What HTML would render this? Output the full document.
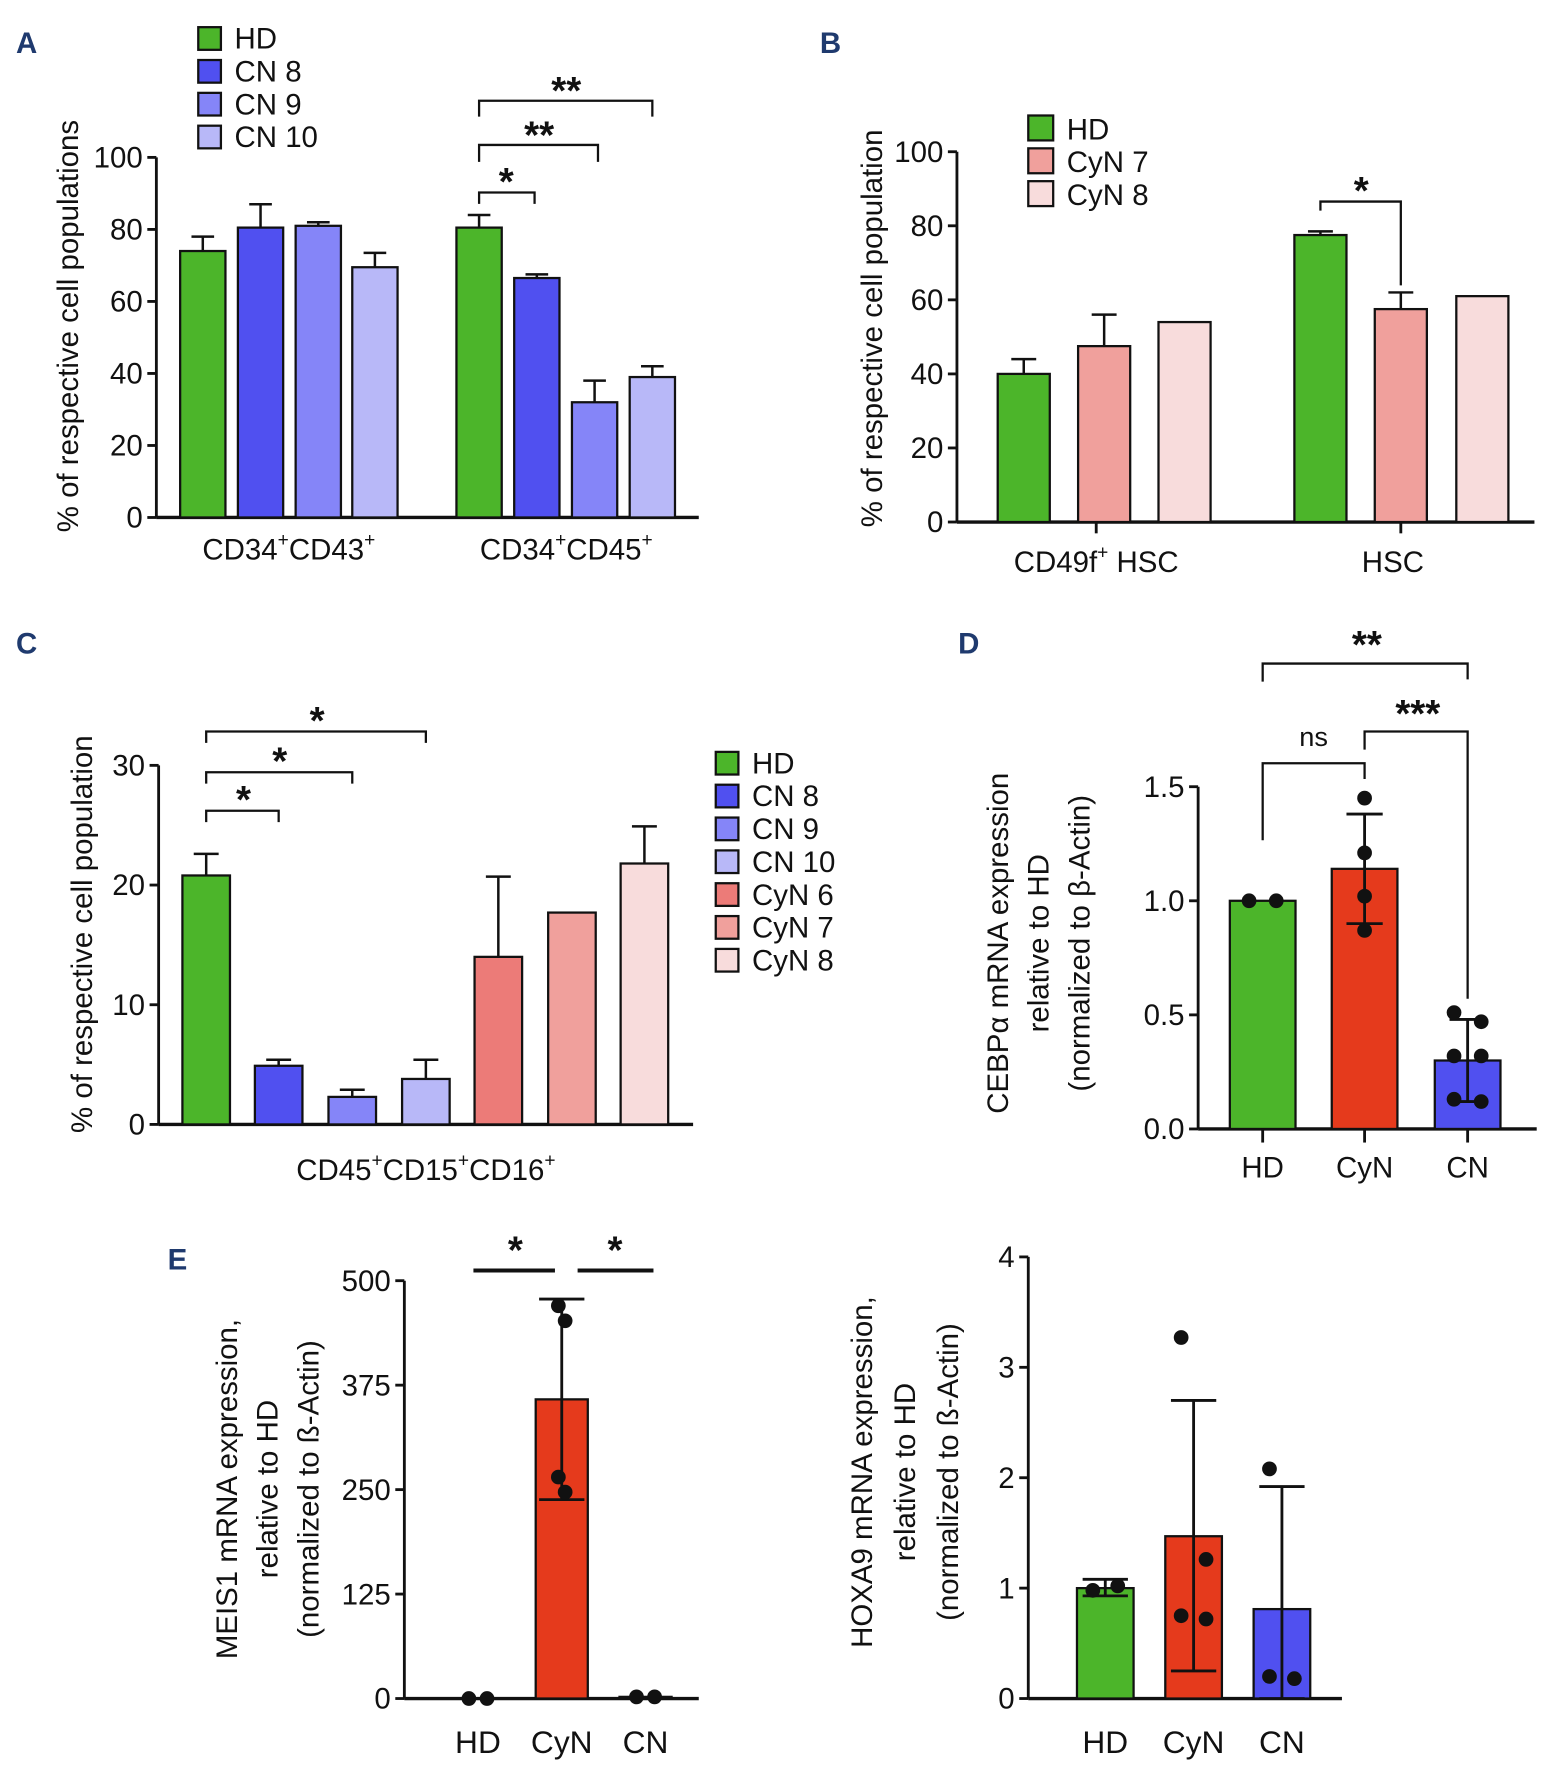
<!DOCTYPE html>
<html><head><meta charset="utf-8"><style>
html,body{margin:0;padding:0;background:#fff}
svg{display:block}
text{font-family:"Liberation Sans",sans-serif;fill:#111}
</style></head><body>
<svg id="fig" width="1547" height="1771" viewBox="0 0 1366 1564" xmlns="http://www.w3.org/2000/svg"></svg>
<script>
// ---- data ----
const aGroups = ["CD34+CD43+", "CD34+CD45+"];
const aSeries = ["HD", "CN 8", "CN 9", "CN 10"];
const aValues = [74, 80.5, 81, 69.5, 80.5, 66.5, 32, 39];
const aErr = [78, 87, 82, 73.5, 84, 67.5, 38, 42];
const aTicks = [0, 20, 40, 60, 80, 100];

const bSeries = ["HD", "CyN 7", "CyN 8"];
const bValues = [40, 47.5, 54, 77.5, 57.5, 61];
const bErr = [44, 56, null, 78.5, 62, null];
const bTicks = [0, 20, 40, 60, 80, 100];

const cSeries = ["HD", "CN 8", "CN 9", "CN 10", "CyN 6", "CyN 7", "CyN 8"];
const cValues = [20.8, 4.9, 2.3, 3.8, 14, 17.7, 21.8];
const cErr = [22.6, 5.4, 2.9, 5.4, 20.7, null, 24.9];
const cTicks = [0, 10, 20, 30];

const dCats = ["HD", "CyN", "CN"];
const dValues = [1.0, 1.14, 0.30];
const dErrLo = [null, 0.90, 0.12];
const dErrHi = [null, 1.38, 0.48];
const dPoints = [[1.0, 1.0], [1.45, 1.21, 1.02, 0.87], [0.51, 0.47, 0.32, 0.32, 0.13, 0.12]];
const dTicks = [0, 0.5, 1.0, 1.5];

const eCats = ["HD", "CyN", "CN"];
const eValues = [0, 358, 2];
const eErrLo = [null, 238, null];
const eErrHi = [null, 478, null];
const ePoints = [[0, 0], [470, 452, 265, 247], [2, 2]];
const eTicks = [0, 125, 250, 375, 500];

const hValues = [1.0, 1.47, 0.81];
const hErrLo = [0.93, 0.25, 0];
const hErrHi = [1.08, 2.7, 1.92];
const hPoints = [[0.98, 1.02], [3.27, 1.26, 0.75, 0.72], [2.08, 0.18, 0.2]];
const hTicks = [0, 1, 2, 3, 4];

const COL = {"HD":"#4cb52a","CN 8":"#5050f0","CN 9":"#8585f8","CN 10":"#b8b8f8","CyN 6":"#ec7b78","CyN 7":"#f0a09c","CyN 8":"#f8dcdc","CyN":"#e53a1c","CN":"#5050f0"};
const svg = document.getElementById('fig');
const NS = "http://www.w3.org/2000/svg";
function el(tag, attrs, parent) {
  const e = document.createElementNS(NS, tag);
  for (const k in attrs) e.setAttribute(k, attrs[k]);
  (parent || svg).appendChild(e);
  return e;
}
function txt(x, y, s, size, anchor, parent, extra) {
  const t = el('text', Object.assign({x:x, y:y, 'font-size':size, 'text-anchor':anchor||'middle'}, extra||{}), parent);
  t.textContent = s;
  return t;
}
function group(name) {
  const g = el('g', {});
  
  
  return g;
}
function panelLabel(x, y, s) {
  const t = txt(x, y, s, 26, 'start', null, {'font-weight':'bold', style:'fill:#1f3a6e'});
  
  
}
function yAxis(g, ax, ticks, x0, x1, fs) {
  el('line', {x1:x0, y1:ax(ticks[ticks.length-1]), x2:x0, y2:ax(ticks[0]), stroke:'#111','stroke-width':2.5}, g);
  el('line', {x1:x0, y1:ax(0), x2:x1, y2:ax(0), stroke:'#111','stroke-width':3}, g);
  ticks.forEach(v => {
    el('line', {x1:x0-8, y1:ax(v), x2:x0, y2:ax(v), stroke:'#111','stroke-width':2.5}, g);
    const t = txt(x0-12, ax(v)+9, String(v), fs, 'end', g);
    
    
  });
}
function bar(g, cx, w, v, ax, color, name) {
  const r = el('rect', {x:cx-w/2, y:ax(v), width:w, height:ax(0)-ax(v), fill:color, stroke:'#111','stroke-width':2}, g);
  
  
}
function errUp(g, cx, v, e, ax, cap) {
  el('line', {x1:cx, y1:ax(v), x2:cx, y2:ax(e), stroke:'#111','stroke-width':2.2}, g);
  el('line', {x1:cx-cap, y1:ax(e), x2:cx+cap, y2:ax(e), stroke:'#111','stroke-width':2.2}, g);
}
function errBoth(g, cx, lo, hi, ax, cap) {
  el('line', {x1:cx, y1:ax(lo), x2:cx, y2:ax(hi), stroke:'#111','stroke-width':2.5}, g);
  [lo, hi].forEach(v => el('line', {x1:cx-cap, y1:ax(v), x2:cx+cap, y2:ax(v), stroke:'#111','stroke-width':2.5}, g));
}
function bracket(g, x1, x2, y, l1, l2, label, lx, ly, fs) {
  el('polyline', {points:`${x1},${l1} ${x1},${y} ${x2},${y} ${x2},${l2}`, fill:'none', stroke:'#111','stroke-width':2}, g);
  const t = txt(lx, ly, label, fs||34, 'middle', g, {'font-weight':'bold'});
  
  
}
function legend(g, x, y0, step, names, size) {
  names.forEach((n, i) => {
    const lg = el('g', {}, g);
    
    
    el('rect', {x:x, y:y0+i*step, width:size, height:size, fill:COL[n], stroke:'#111','stroke-width':2}, lg);
    txt(x+size+12, y0+i*step+size-1, n, 26, 'start', lg);
  });
}
function yTitle(g, lines, xs, cy, fs) {
  lines.forEach((s, i) => {
    const t = txt(0, 0, s, fs, 'middle', g, {transform:`translate(${xs[i]},${cy}) rotate(-90)`});
    
    
  });
}
function supLabel(g, x, y, parts, fs) {
  const t = el('text', {x:x, y:y, 'font-size':fs, 'text-anchor':'middle'}, g);
  parts.forEach(p => {
    const s = el('tspan', p[1] ? {'font-size':fs*0.65, dy:-12} : {dy: t.childNodes.length ? 12 : 0}, t);
    s.textContent = p[0];
  });
  
  
}
function dots(g, cx, pts, ax, spread) {
  pts.forEach((v, i) => {
    const off = pts.length === 1 ? 0 : (i % 2 === 0 ? -spread : spread);
    const c = el('circle', {cx:cx+off, cy:ax(v), r:6.5, fill:'#111'}, g);
    
    
  });
}

// ---- Panel A ----
(function(){
  const g = group('panel-a-chart');
  panelLabel(14, 47, 'A');
  const ax = v => 457 - v * 3.18;
  yAxis(g, ax, aTicks, 138, 617, 26);
  const centers = [179, 230, 281, 331, 423, 474, 525, 576];
  aValues.forEach((v, i) => {
    const s = aSeries[i % 4];
    bar(g, centers[i], 40, v, ax, COL[s], 'bar-' + s.toLowerCase().replace(' ', '-'));
    errUp(g, centers[i], v, aErr[i], ax, 10);
  });
  supLabel(g, 255, 494, [["CD34"],["+",1],["CD43"],["+",1]], 26);
  supLabel(g, 500, 494, [["CD34"],["+",1],["CD45"],["+",1]], 26);
  legend(g, 175, 24, 29, aSeries, 20);
  yTitle(g, ["% of respective cell populations"], [69], 288, 26);
  bracket(g, 423, 472, 170, 180, 180, '*', 447, 172);
  bracket(g, 423, 528, 128, 143, 143, '**', 476, 131);
  bracket(g, 423, 576, 89, 103, 103, '**', 500, 92);
})();

// ---- Panel B ----
(function(){
  const g = group('panel-b-chart');
  panelLabel(724, 47, 'B');
  const ax = v => 461 - v * 3.27;
  yAxis(g, ax, bTicks, 845, 1355, 26);
  [968, 1237].forEach(x => el('line', {x1:x, y1:461, x2:x, y2:471, stroke:'#111','stroke-width':2.5}, g));
  const centers = [904, 975, 1046, 1166, 1237, 1309];
  bValues.forEach((v, i) => {
    const s = bSeries[i % 3];
    bar(g, centers[i], 46, v, ax, COL[s], 'bar-' + s.toLowerCase().replace(' ', '-'));
    if (bErr[i] !== null) errUp(g, centers[i], v, bErr[i], ax, 11);
  });
  supLabel(g, 968, 505, [["CD49f"],["+",1],[" HSC"]], 26);
  txt(1230, 505, 'HSC', 26, 'middle', g);
  legend(g, 908, 102, 29, bSeries, 22);
  yTitle(g, ["% of respective cell population"], [779], 290, 26);
  bracket(g, 1166, 1237, 178, 186, 252, '*', 1202, 180);
})();

// ---- Panel C ----
(function(){
  const g = group('panel-c-chart');
  panelLabel(14, 577, 'C');
  const ax = v => 993 - v * 10.57;
  yAxis(g, ax, cTicks, 140, 612, 26);
  const centers = [182, 246, 311, 376, 440, 505, 569];
  cValues.forEach((v, i) => {
    bar(g, centers[i], 42, v, ax, COL[cSeries[i]], 'bar-' + cSeries[i].toLowerCase().replace(' ', '-'));
    if (cErr[i] !== null) errUp(g, centers[i], v, cErr[i], ax, 11);
  });
  supLabel(g, 376, 1042, [["CD45"],["+",1],["CD15"],["+",1],["CD16"],["+",1]], 26);
  legend(g, 632, 664, 29, cSeries, 20);
  yTitle(g, ["% of respective cell population"], [81], 825, 26);
  bracket(g, 182, 246, 716, 726, 726, '*', 215, 718);
  bracket(g, 182, 311, 682, 692, 692, '*', 247, 684);
  bracket(g, 182, 376, 646, 656, 656, '*', 280, 648);
})();

// ---- Panel D ----
(function(){
  const g = group('panel-d-chart');
  panelLabel(846, 577, 'D');
  const ax = v => 997 - v * 201.5;
  yAxis(g, ax, dTicks, 1058, 1357, 26);
  g.querySelectorAll('text').forEach((t, i) => t.textContent = dTicks[i].toFixed(1));
  const centers = [1115, 1205, 1296];
  const spreads = [12, 0, 12];
  dCats.forEach((c, i) => {
    bar(g, centers[i], 58, dValues[i], ax, COL[c], 'bar-' + c.toLowerCase());
    el('line', {x1:centers[i], y1:997, x2:centers[i], y2:1009, stroke:'#111','stroke-width':2.5}, g);
    if (dErrLo[i] !== null) errBoth(g, centers[i], dErrLo[i], dErrHi[i], ax, 16);
    dots(g, centers[i], dPoints[i], ax, spreads[i]);
    txt(centers[i], 1040, c, 26, 'middle', g);
  });
  yTitle(g, ["CEBPα mRNA expression", "relative to HD", "(normalized to β-Actin)"], [890, 926, 962], 833, 26);
  bracket(g, 1115, 1205, 674, 742, 688, '', 0, 0);
  txt(1160, 659, 'ns', 24, 'middle', g);
  bracket(g, 1205, 1296, 646, 662, 882, '***', 1252, 642);
  bracket(g, 1115, 1296, 586, 602, 600, '**', 1207, 581);
})();

// ---- Panel E (MEIS1) ----
(function(){
  const g = group('panel-e-meis1-chart');
  panelLabel(148, 1121, 'E');
  const ax = v => 1500 - v * 0.738;
  yAxis(g, ax, eTicks, 357, 617, 26);
  const centers = [422, 496, 570];
  const spreads = [8, 3, 8];
  eCats.forEach((c, i) => {
    bar(g, centers[i], 46, eValues[i], ax, COL[c], 'bar-' + c.toLowerCase());
    if (eErrLo[i] !== null) errBoth(g, centers[i], eErrLo[i], eErrHi[i], ax, 20);
    dots(g, centers[i], ePoints[i], ax, spreads[i]);
    txt(centers[i], 1548, c, 28, 'middle', g);
  });
  yTitle(g, ["MEIS1 mRNA expression,", "relative to HD", "(normalized to ß-Actin)"], [209, 245, 281], 1315, 26);
  el('line', {x1:418, y1:1122, x2:490, y2:1122, stroke:'#111','stroke-width':3.5}, g);
  el('line', {x1:510, y1:1122, x2:577, y2:1122, stroke:'#111','stroke-width':3.5}, g);
  txt(455, 1116, '*', 34, 'middle', g, {'font-weight':'bold'});
  txt(543, 1116, '*', 34, 'middle', g, {'font-weight':'bold'});
})();

// ---- Panel E (HOXA9) ----
(function(){
  const g = group('panel-e-hoxa9-chart');
  const ax = v => 1500 - v * 97.5;
  yAxis(g, ax, hTicks, 908, 1185, 26);
  const centers = [976, 1054, 1132];
  eCats.forEach((c, i) => {
    bar(g, centers[i], 50, hValues[i], ax, COL[c], 'bar-' + c.toLowerCase());
    errBoth(g, centers[i], hErrLo[i], hErrHi[i], ax, 20);
    dots(g, centers[i], hPoints[i], ax, 11);
    txt(centers[i], 1548, c, 28, 'middle', g);
  });
  yTitle(g, ["HOXA9 mRNA expression,", "relative to HD", "(normalized to ß-Actin)"], [770, 808, 846], 1300, 26);
})();
</script>
</body></html>
